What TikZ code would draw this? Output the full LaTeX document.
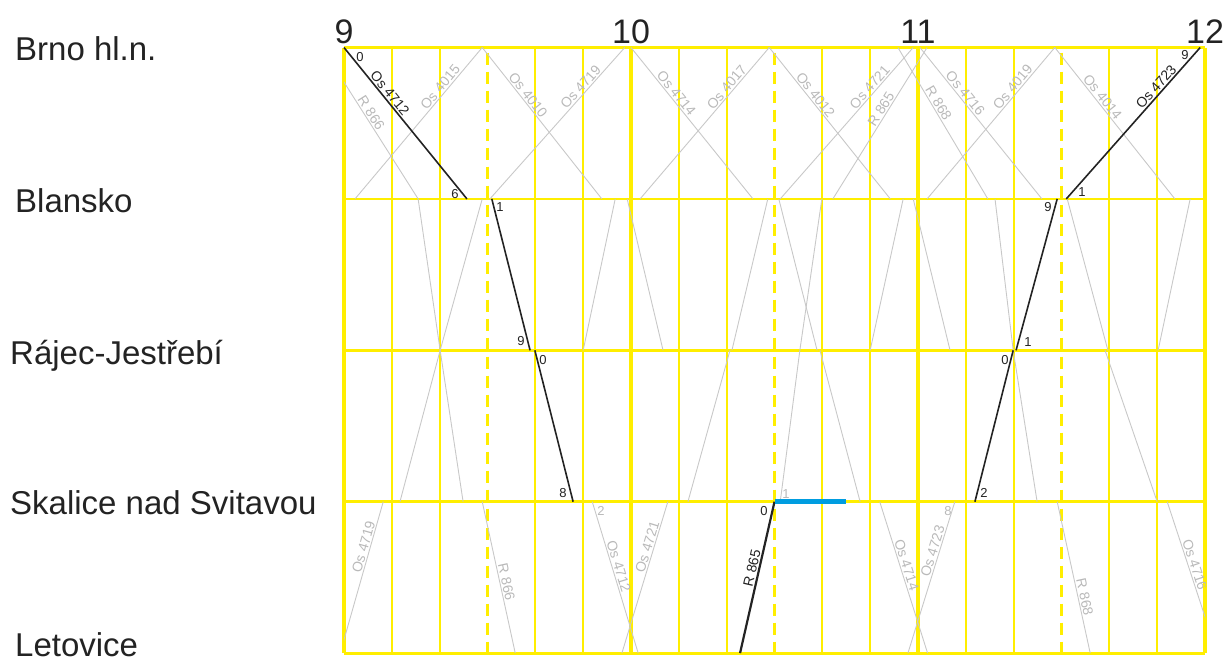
\documentclass[tikz,border=0pt]{standalone}
\usepackage{fontspec}
\setmainfont{Liberation Sans}
\definecolor{yel}{RGB}{255,238,0}
\definecolor{trg}{RGB}{200,200,200}
\definecolor{trt}{RGB}{185,185,185}
\definecolor{blk}{RGB}{35,35,35}
\definecolor{blu}{RGB}{0,157,224}
\begin{document}
\begin{tikzpicture}[x=1pt,y=-1pt,
  vline/.style={draw=yel,line width=2pt},
  hline/.style={draw=yel,line width=3.3pt},
  halfline/.style={draw=yel,line width=2.6pt,dash pattern=on 12pt off 7pt,dash phase=14pt},
  staline/.style={draw=yel,line width=2.8pt},
  tr/.style={draw=trg,line width=0.9pt},
  mytr/.style={draw=blk,line width=1.6pt},
  glbl/.style={sloped,above,inner sep=1.2pt,text=trt,font=\fontsize{14}{14}\selectfont},
  blbl/.style={sloped,above,inner sep=1.2pt,text=blk,font=\fontsize{14}{14}\selectfont},
  bnum/.style={inner sep=0pt,text=blk,font=\fontsize{13}{13}\selectfont},
  gnum/.style={inner sep=0pt,text=trt,font=\fontsize{13}{13}\selectfont},
  stalbl/.style={anchor=base west,inner sep=0pt,text=blk,font=\fontsize{33}{33}\selectfont},
  hourlbl/.style={anchor=base,inner sep=0pt,text=blk,font=\fontsize{34}{34}\selectfont}]
\useasboundingbox (0,0) rectangle (1224,657);
\begin{scope}[shift={(344,47.5)},x=4.7833pt,y=-151.4pt]
  % grid
  \foreach \t in {10,20,40,50,70,80,100,110,130,140,160,170}
    \draw[vline] (\t,0) -- (\t,4);
  \foreach \t in {30,90,150}
    \draw[halfline] (\t,0) -- (\t,4);
  \foreach \s in {0,1,2,3,4}
    \draw[staline] (0,\s) -- (180,\s);
  \foreach \t in {0,60,120,180}
    \draw[hline] (\t,0) -- (\t,4);
  % other trains
  \begin{scope}
    \clip (0,0) rectangle (180,4);
    % Brno - Blansko
    \draw[tr] (-4.6,0) -- node[glbl,pos=.455]{R 866} (15.5,1);
    \draw[tr] (2.3,1) -- node[glbl,pos=.71]{Os 4015} (28.9,0);
    \draw[tr] (28.9,0) -- node[glbl,pos=.34]{Os 4010} (53.9,1);
    \draw[tr] (30.5,1) -- node[glbl,pos=.71]{Os 4719} (58.7,0);
    \draw[tr] (60,0) -- node[glbl,pos=.33]{Os 4714} (85.5,1);
    \draw[tr] (61.9,1) -- node[glbl,pos=.71]{Os 4017} (88.9,0);
    \draw[tr] (88.9,0) -- node[glbl,pos=.34]{Os 4012} (114.2,1);
    \draw[tr] (91.2,1) -- node[glbl,pos=.71]{Os 4721} (119,0);
    \draw[tr] (102.2,1) -- node[glbl,pos=.57]{R 865} (121.9,0);
    \draw[tr] (115.8,0) -- node[glbl,pos=.39]{R 868} (134.6,1);
    \draw[tr] (120.4,0) -- node[glbl,pos=.33]{Os 4716} (145.9,1);
    \draw[tr] (121.9,1) -- node[glbl,pos=.71]{Os 4019} (148.6,0);
    \draw[tr] (148.6,0) -- node[glbl,pos=.355]{Os 4014} (173.7,1);
    % Blansko - Rajec
    \draw[tr] (15.5,1) -- (20.1,2);
    \draw[tr] (20.1,2) -- (28.9,1);
    \draw[tr] (50,2) -- (56.7,1);
    \draw[tr] (59.2,1) -- (66.7,2);
    \draw[tr] (81.1,2) -- (88.6,1);
    \draw[tr] (90.9,1) -- (98.9,2);
    \draw[tr] (95.3,2) -- (99.9,1);
    \draw[tr] (110,2) -- (116.9,1);
    \draw[tr] (119,1) -- (126.7,2);
    \draw[tr] (136.1,1) -- (139.9,2);
    \draw[tr] (151.2,1) -- (159.7,2);
    \draw[tr] (170.2,2) -- (176.9,1);
    % Rajec - Skalice
    \draw[tr] (11.7,3) -- (20.1,2);
    \draw[tr] (20.1,2) -- (24.9,3);
    \draw[tr] (71.9,3) -- (80.7,2);
    \draw[tr] (91.2,3) -- (95.3,2);
    \draw[tr] (99.5,2) -- (107.9,3);
    \draw[tr] (139.9,2) -- (144.9,3);
    \draw[tr] (159.1,2) -- (170,3);
    % Skalice - Letovice
    \draw[tr] (-0.8,4) -- node[glbl,pos=.69]{Os 4719} (8.2,3);
    \draw[tr] (28.9,3) -- node[glbl,pos=.54]{R 866} (35.8,4);
    \draw[tr] (51.9,3) -- node[glbl,pos=.44]{Os 4712} (61.5,4);
    \draw[tr] (58.1,4) -- node[glbl,pos=.69]{Os 4721} (67.7,3);
    \draw[tr] (112,3) -- node[glbl,pos=.43]{Os 4714} (122,4);
    \draw[tr] (117.9,4) -- node[glbl,pos=.66]{Os 4723} (127.7,3);
    \draw[tr] (149.1,3) -- node[glbl,pos=.64]{R 868} (156,4);
    \draw[tr] (172.1,3) -- node[glbl,pos=.43]{Os 4716} (182.5,4);
  \end{scope}
  % the highlighted trains
  \draw[mytr] (0,0) -- node[blbl,pos=.33]{Os 4712} (25.7,1);
  \draw[mytr] (30.9,1) -- (38.9,2);
  \draw[mytr] (39.9,2) -- (47.9,3);
  \draw[mytr,line width=2.2pt] (82.8,4) -- node[blbl,pos=.55]{R 865} (90,3);
  \draw[draw=blu,line width=4.5pt] (90,3) -- (105,3);
  \draw[mytr] (131.9,3) -- (139.9,2);
  \draw[mytr] (140.5,2) -- (149.1,1);
  \draw[mytr] (151,1) -- node[blbl,pos=.71]{Os 4723} (179,0);
\end{scope}
% hour labels
\node[hourlbl] (h9) at (344,43) {9};
\node[hourlbl] (h10) at (631,43) {10};
\node[hourlbl] (h11) at (918,43) {11};
\node[hourlbl] (h12) at (1205,43) {12};
% station labels
\node[stalbl] (brno) at (15,60) {Brno hl.n.};
\node[stalbl] (blansko) at (15,212) {Blansko};
\node[stalbl] (rajec) at (10,364) {Rájec-Jestřebí};
\node[stalbl] (skalice) at (10,514) {Skalice nad Svitavou};
\node[stalbl] (letovice) at (15,656) {Letovice};
% minute labels
\node[bnum] (m1) at (360,57) {0};
\node[bnum] (m2) at (455,194) {6};
\node[bnum] (m3) at (500,207) {1};
\node[bnum] (m4) at (521,341) {9};
\node[bnum] (m5) at (543,360) {0};
\node[bnum] (m6) at (563,493) {8};
\node[bnum] (m7) at (764,511) {0};
\node[bnum] (m8) at (984,493) {2};
\node[bnum] (m9) at (1005,360) {0};
\node[bnum] (m10) at (1028,342) {1};
\node[bnum] (m11) at (1048,207) {9};
\node[bnum] (m12) at (1082,192) {1};
\node[bnum] (m13) at (1185,55) {9};
\node[gnum] (g1) at (601,511) {2};
\node[gnum] (g2) at (786,494) {1};
\node[gnum] (g3) at (948,511) {8};
\end{tikzpicture}
\end{document}
